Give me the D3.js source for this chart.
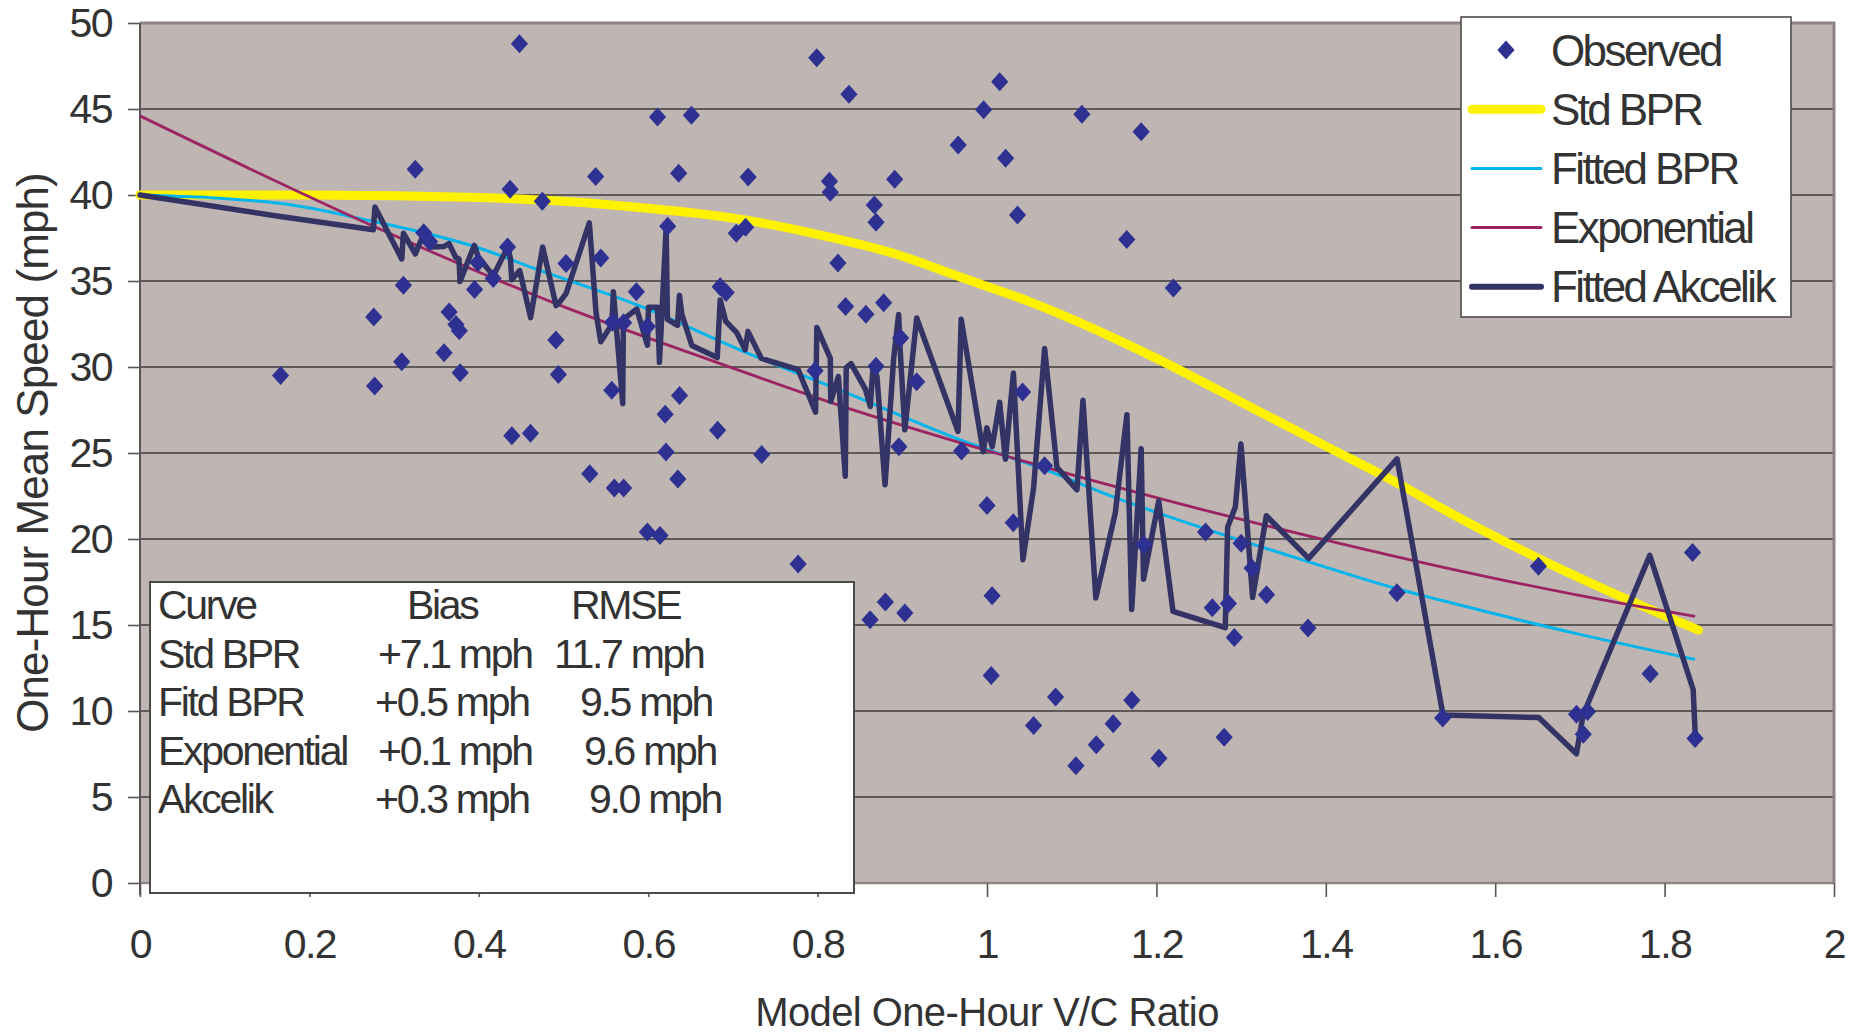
<!DOCTYPE html>
<html>
<head>
<meta charset="utf-8">
<script src="https://cdn.jsdelivr.net/npm/d3@7"></script>
<style>
  html, body { margin: 0; padding: 0; background: #fff; }
  svg text { font-family: "Liberation Sans", Arial, Helvetica, sans-serif; fill: #333; }
</style>
</head>
<body>
<svg id="chart" width="1860" height="1034"></svg>
<script>
// ── Axes ────────────────────────────────────────────────────────────────
const xTicks = [0, 0.2, 0.4, 0.6, 0.8, 1, 1.2, 1.4, 1.6, 1.8, 2];
const xTickLabels = ['0', '0.2', '0.4', '0.6', '0.8', '1', '1.2', '1.4', '1.6', '1.8', '2'];
const yTicks = [0, 5, 10, 15, 20, 25, 30, 35, 40, 45, 50];
const xTitle = 'Model One-Hour V/C Ratio';
const yTitle = 'One-Hour Mean Speed (mph)';

// ── Observed points (V/C, mph) ─────────────────────────────────────────
const obsX = [0.166, 0.276, 0.277, 0.309, 0.311, 0.325, 0.335, 0.342, 0.359, 0.365, 0.373, 0.377, 0.378,
  0.395, 0.399, 0.417, 0.434, 0.437, 0.439, 0.448, 0.461, 0.475, 0.491, 0.494, 0.503, 0.531, 0.538, 0.544,
  0.557, 0.558, 0.560, 0.571, 0.571, 0.586, 0.599, 0.599, 0.611, 0.614, 0.620, 0.621, 0.623, 0.635, 0.636,
  0.637, 0.651, 0.682, 0.685, 0.692, 0.704, 0.715, 0.718, 0.734, 0.777, 0.797, 0.799, 0.814, 0.815, 0.824,
  0.833, 0.837, 0.857, 0.862, 0.867, 0.869, 0.869, 0.878, 0.880, 0.891, 0.896, 0.898, 0.903, 0.917, 0.966,
  0.970, 0.996, 1.000, 1.005, 1.006, 1.015, 1.022, 1.031, 1.036, 1.042, 1.055, 1.068, 1.081, 1.105, 1.112,
  1.129, 1.149, 1.165, 1.171, 1.182, 1.185, 1.203, 1.220, 1.258, 1.266, 1.280, 1.285, 1.292, 1.300, 1.313,
  1.330, 1.379, 1.484, 1.538, 1.651, 1.696, 1.704, 1.709, 1.783, 1.833, 1.836];
const obsY = [29.5, 32.9, 28.9, 30.3, 34.75, 41.5, 37.8, 37.28, 30.83, 33.2, 32.47, 32.11, 29.67,
  34.5, 36.08, 35.14, 36.98, 40.34, 26.0, 48.79, 26.15, 39.64, 31.57, 29.57, 36.02, 23.8, 41.08, 36.34,
  28.65, 32.6, 22.96, 32.57, 22.96, 34.37, 32.35, 20.4, 44.53, 20.21, 27.25, 25.06, 38.18, 23.49, 41.27,
  28.35, 44.64, 26.32, 34.66, 34.33, 37.78, 38.12, 41.04, 24.91, 18.54, 29.78, 47.98, 40.8, 40.16, 36.04,
  33.52, 45.86, 33.07, 15.31, 39.42, 38.42, 30.05, 33.74, 16.33, 40.91, 25.37, 31.68, 15.7, 29.14, 42.9,
  25.12, 44.95, 21.95, 12.07, 16.7, 46.59, 42.14, 20.94, 38.84, 28.55, 9.16, 24.26, 10.81, 6.82, 44.69,
  8.04, 9.26, 37.42, 10.62, 43.68, 19.66, 7.26, 34.59, 20.4, 16.0, 8.48, 16.25, 14.27, 19.76, 18.3,
  16.76, 14.83, 16.87, 9.6, 18.42, 9.81, 8.65, 9.97, 12.17, 19.21, 8.4];

// ── Std BPR curve ───────────────────────────────────────────────────────
const stdX = [0, 0.2, 0.4, 0.55, 0.72, 0.81, 0.89, 0.97, 1.05, 1.16, 1.2, 1.31, 1.4, 1.49, 1.54, 1.65, 1.76, 1.84];
const stdY = [40.0, 40.0, 39.85, 39.45, 38.5, 37.6, 36.6, 35.2, 33.8, 31.45, 30.5, 27.7, 25.4, 23.1, 21.7, 18.9, 16.4, 14.7];

// ── Fitted BPR curve ────────────────────────────────────────────────────
const fitX = [0, 0.167, 0.272, 0.335, 0.39, 0.473, 0.59, 0.708, 0.834, 0.972, 1.07, 1.157, 1.2, 1.378, 1.488, 1.535, 1.696, 1.836];
const fitY = [40.0, 39.5, 38.5, 37.8, 37.08, 35.6, 33.55, 31.0, 28.5, 25.7, 24.0, 22.3, 21.55, 18.7, 17.05, 16.45, 14.5, 13.0];

// ── Exponential curve ───────────────────────────────────────────────────
const expX = [0, 0.275, 0.49, 0.685, 0.83, 1.01, 1.2, 1.378, 1.535, 1.696, 1.836];
const expY = [44.6, 38.2, 33.7, 30.2, 27.7, 25.0, 22.4, 20.2, 18.4, 16.75, 15.5];

// ── Fitted Akcelik (jagged, one vertex per observation) ─────────────────
const akX = [0, 0.1656, 0.2755, 0.2774, 0.309, 0.311, 0.325, 0.3345, 0.3443, 0.3585, 0.3648, 0.3727, 0.3766,
  0.3778, 0.3947, 0.3994, 0.4172, 0.4342, 0.4373, 0.4389, 0.4483, 0.4612, 0.4754, 0.4912, 0.4939, 0.503,
  0.5305, 0.5384, 0.544, 0.557, 0.5589, 0.5699, 0.5707, 0.5865, 0.5991, 0.6003, 0.611, 0.6133, 0.6212,
  0.6227, 0.6346, 0.6369, 0.6397, 0.6515, 0.6815, 0.685, 0.6915, 0.7045, 0.7145, 0.7178, 0.7335, 0.777,
  0.7976, 0.7991, 0.815, 0.8155, 0.8245, 0.8327, 0.8338, 0.8395, 0.8567, 0.8622, 0.8655, 0.8701, 0.8796,
  0.8898, 0.8957, 0.8975, 0.903, 0.917, 0.9658, 0.9695, 0.9955, 0.9998, 1.0062, 1.0149, 1.0217, 1.0312,
  1.0424, 1.055, 1.068, 1.0826, 1.1062, 1.1133, 1.1285, 1.1514, 1.1652, 1.1708, 1.182, 1.1848, 1.2027,
  1.2196, 1.2813, 1.2841, 1.2932, 1.2998, 1.3136, 1.3298, 1.3797, 1.4841, 1.5384, 1.6514, 1.6959, 1.7038,
  1.7825, 1.8337, 1.8364];
const akY = [40.0, 38.75, 37.98, 39.3, 36.28, 37.78, 36.58, 37.68, 36.98, 37.0, 37.18, 36.38, 36.28,
  34.97, 37.08, 36.4, 35.3, 36.98, 36.3, 35.07, 35.6, 32.87, 36.98, 33.57, 33.67, 34.27,
  38.38, 33.17, 31.47, 32.47, 34.37, 27.87, 32.77, 33.37, 31.27, 33.47, 33.47, 30.27, 38.1,
  32.77, 32.42, 34.17, 33.07, 31.25, 30.55, 33.9, 32.66, 32.0, 31.0, 32.07, 30.5, 29.85,
  27.37, 32.3, 30.5, 28.0, 29.45, 23.65, 29.95, 30.2, 28.68, 27.7, 30.05, 29.45, 23.15,
  30.5, 33.05, 31.0, 26.35, 32.85, 26.25, 32.77, 25.07, 26.46, 25.37, 27.95, 24.64, 29.65,
  18.8, 22.96, 31.07, 24.16, 22.86, 28.07, 16.57, 21.5, 27.23, 15.9, 25.25, 17.66, 22.21,
  15.79, 14.85, 20.69, 21.86, 25.53, 16.6, 21.35, 18.87, 24.66, 9.77, 9.62, 7.51, 9.77,
  19.05, 11.25, 8.4];

// ── Legend + fit statistics ─────────────────────────────────────────────
const legendLabels = ['Observed', 'Std BPR', 'Fitted BPR', 'Exponential', 'Fitted Akcelik'];
const statsHeader = ['Curve', 'Bias', 'RMSE'];
const statsRows = [
  ['Std BPR', '+7.1 mph', '11.7 mph'],
  ['Fitd BPR', '+0.5 mph', '9.5 mph'],
  ['Exponential', '+0.1 mph', '9.6 mph'],
  ['Akcelik', '+0.3 mph', '9.0 mph']
];

// ── Layout ──────────────────────────────────────────────────────────────
const W = 1860, H = 1034;
const plot = { left: 140, right: 1834, top: 23, bottom: 883 };
const C = {
  bg: '#bfb6b3', grid: '#3d3b3b', frame: '#8e8482', axis: '#5a5454',
  obs: '#2e3192', std: '#fff200', fit: '#00b5ec', exp: '#9c2462', ak: '#333366'
};
// column starts of the stats table (the source aligned them with spaces)
const statsColX = [
  [158, 407, 571],
  [158, 378, 554],
  [158, 375, 580],
  [158, 378, 584],
  [158, 375, 589]
];

const svg = d3.select('#chart');
const x = d3.scaleLinear().domain([0, 2]).range([plot.left, plot.right]);
const y = d3.scaleLinear().domain([0, 50]).range([plot.bottom, plot.top]);

svg.append('rect').attr('width', W).attr('height', H).attr('fill', '#fff');

// plot background
svg.append('rect')
  .attr('x', plot.left).attr('y', plot.top)
  .attr('width', plot.right - plot.left).attr('height', plot.bottom - plot.top)
  .attr('fill', C.bg);

// gridlines
svg.append('g').selectAll('line').data(yTicks.filter(v => v > 0 && v < 50)).join('line')
  .attr('x1', plot.left).attr('x2', plot.right)
  .attr('y1', d => y(d)).attr('y2', d => y(d))
  .attr('stroke', C.grid).attr('stroke-width', 1.6);

// frame: top + right gray, left/bottom axis lines
svg.append('path')
  .attr('d', `M${plot.left},${plot.top}H${plot.right}V${plot.bottom}`)
  .attr('fill', 'none').attr('stroke', C.frame).attr('stroke-width', 3);
svg.append('line').attr('x1', plot.left).attr('x2', plot.right)
  .attr('y1', plot.bottom).attr('y2', plot.bottom)
  .attr('stroke', C.frame).attr('stroke-width', 2.5);
svg.append('line').attr('x1', plot.left).attr('x2', plot.left)
  .attr('y1', plot.top).attr('y2', plot.bottom + 12)
  .attr('stroke', C.axis).attr('stroke-width', 2);

// axes (ticks + labels)
const yAxis = svg.append('g').attr('transform', `translate(${plot.left},0)`)
  .call(d3.axisLeft(y).tickValues(yTicks).tickSize(12).tickPadding(16).tickFormat(d => String(d)));
const xAxis = svg.append('g').attr('transform', `translate(0,${plot.bottom})`)
  .call(d3.axisBottom(x).tickValues(xTicks).tickSize(14).tickPadding(32).tickFormat((d, i) => xTickLabels[i]));
[yAxis, xAxis].forEach(g => {
  g.select('.domain').remove();
  g.selectAll('.tick line').attr('stroke', C.axis).attr('stroke-width', 1.6);
  g.selectAll('.tick text')
    .style('font-family', '"Liberation Sans", Arial, sans-serif')
    .style('font-size', '41px').style('letter-spacing', '-1.5px').attr('fill', '#333');
});

// axis titles
svg.append('text')
  .attr('x', (plot.left + plot.right) / 2).attr('y', 1026)
  .attr('text-anchor', 'middle')
  .style('font-size', '40px').style('letter-spacing', '-0.6px')
  .text(xTitle);
svg.append('text')
  .attr('transform', `translate(48,${(plot.top + plot.bottom) / 2}) rotate(-90)`)
  .attr('text-anchor', 'middle')
  .style('font-size', '44px').style('letter-spacing', '-0.9px')
  .text(yTitle);

// series lines
const line = (xs, ys, curve) => d3.line()
  .x((d, i) => x(xs[i])).y((d, i) => y(ys[i]))
  .curve(curve)(xs);

svg.append('path').attr('d', line(stdX, stdY, d3.curveMonotoneX))
  .attr('fill', 'none').attr('stroke', C.std).attr('stroke-width', 9).attr('stroke-linecap', 'round');
svg.append('path').attr('d', line(fitX, fitY, d3.curveMonotoneX))
  .attr('fill', 'none').attr('stroke', C.fit).attr('stroke-width', 3);
svg.append('path').attr('d', line(expX, expY, d3.curveMonotoneX))
  .attr('fill', 'none').attr('stroke', C.exp).attr('stroke-width', 2.8);
svg.append('path').attr('d', line(akX, akY, d3.curveLinear))
  .attr('fill', 'none').attr('stroke', C.ak).attr('stroke-width', 5.5)
  .attr('stroke-linejoin', 'round').attr('stroke-linecap', 'round');

// observed diamonds
const diamond = 'M0,-9.5L8.6,0L0,9.5L-8.6,0Z';
svg.append('g').selectAll('path').data(obsX).join('path')
  .attr('d', diamond)
  .attr('transform', (d, i) => `translate(${x(obsX[i])},${y(obsY[i])})`)
  .attr('fill', C.obs);

// stats box
const stats = svg.append('g');
stats.append('rect').attr('x', 150).attr('y', 582).attr('width', 704).attr('height', 311)
  .attr('fill', '#fff').attr('stroke', '#4f4a4a').attr('stroke-width', 2);
[statsHeader, ...statsRows].forEach((row, r) => {
  row.forEach((txt, c) => {
    stats.append('text')
      .attr('x', statsColX[r][c]).attr('y', 619 + r * 48.5)
      .style('font-size', '41px').style('letter-spacing', '-2.3px')
      .text(txt);
  });
});

// legend
const lg = svg.append('g').attr('transform', 'translate(1461,17)');
lg.append('rect').attr('width', 330).attr('height', 300)
  .attr('fill', '#fff').attr('stroke', '#4f4a4a').attr('stroke-width', 1.6);
const legendStyle = [
  { type: 'dot' },
  { color: C.std, w: 9 },
  { color: C.fit, w: 3 },
  { color: C.exp, w: 3 },
  { color: C.ak, w: 6 }
];
legendLabels.forEach((lab, i) => {
  const cy = 33 + i * 59.2;
  const st = legendStyle[i];
  if (st.type === 'dot') {
    lg.append('path').attr('d', diamond).attr('transform', `translate(45,${cy})`).attr('fill', C.obs);
  } else {
    lg.append('line').attr('x1', 11).attr('x2', 80).attr('y1', cy).attr('y2', cy)
      .attr('stroke', st.color).attr('stroke-width', st.w).attr('stroke-linecap', 'round');
  }
  lg.append('text').attr('x', 90).attr('y', cy + 15.5)
    .style('font-size', '44px').style('letter-spacing', '-2.6px')
    .text(lab);
});
</script>
</body>
</html>
